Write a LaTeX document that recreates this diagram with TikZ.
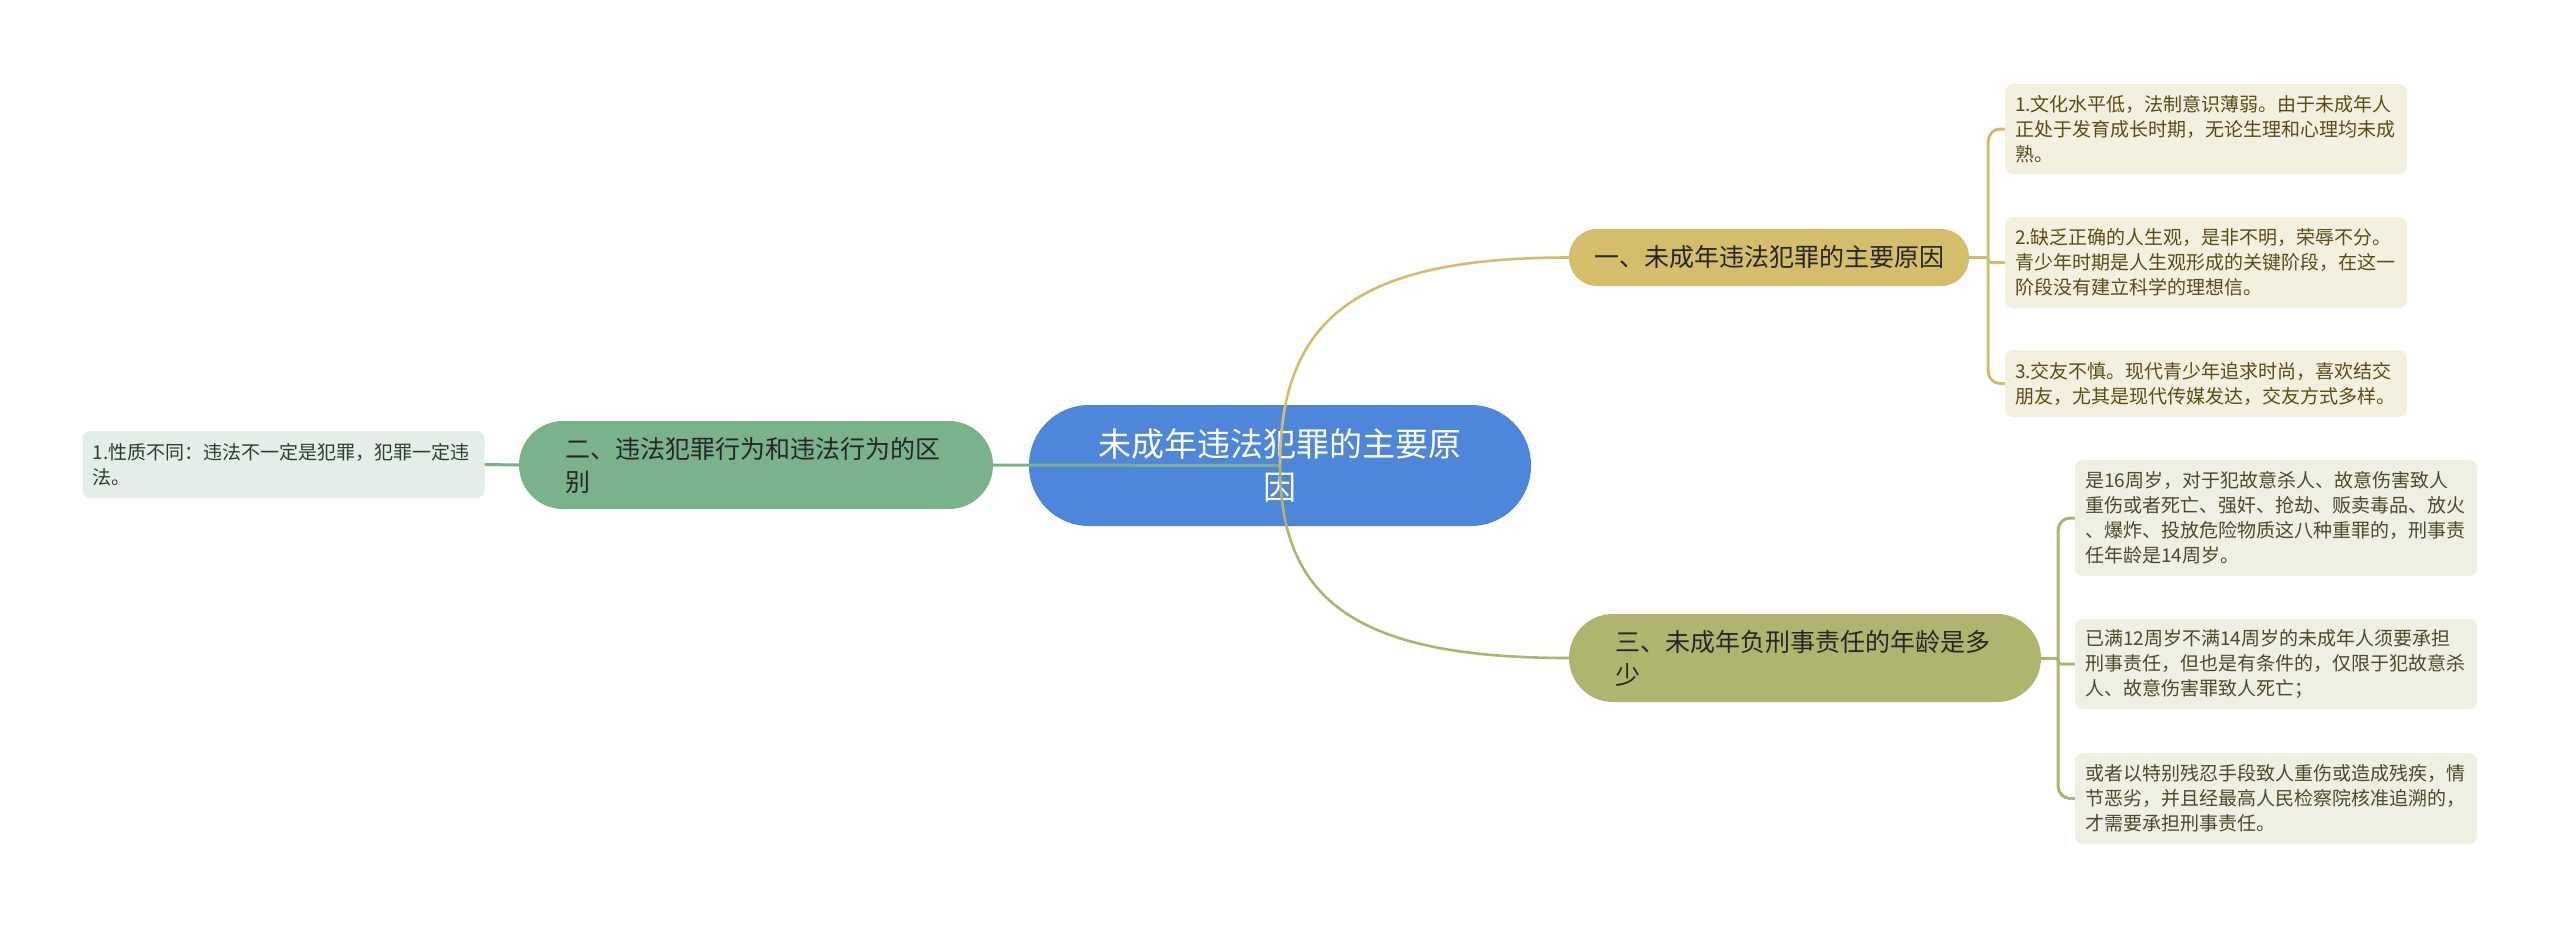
\documentclass[tikz,border=0pt]{standalone}
\usepackage{fontspec}
\newfontfamily\cjk{Noto Sans CJK SC}
\usetikzlibrary{calc}
\definecolor{rootblue}{HTML}{4E86DA}
\definecolor{goldfill}{HTML}{D5BD6B}
\definecolor{olivefill}{HTML}{AFB56E}
\definecolor{greenfill}{HTML}{7AB28C}
\definecolor{goldleaf}{HTML}{F4F0E0}
\definecolor{oliveleaf}{HTML}{EFF0E3}
\definecolor{greenleaf}{HTML}{E3EEE8}
\definecolor{goldtext}{HTML}{5B4B16}
\definecolor{olivetext}{HTML}{4A4A2C}
\definecolor{greentext}{HTML}{2C3E33}
\definecolor{branchtext}{HTML}{262626}
\begin{document}
\begin{tikzpicture}[x=1pt,y=-1pt,
  rootbox/.style={fill=rootblue, text=white, rounded corners=60pt, minimum width=502pt, minimum height=121pt, inner sep=0pt, text width=380pt, align=center, font=\cjk\fontsize{33}{43}\selectfont},
  branchbox/.style={text=branchtext, inner ysep=0pt, font=\cjk\fontsize{25}{33}\selectfont},
  leafbox/.style={rounded corners=8pt, inner xsep=10pt, inner ysep=0pt, text width=382pt, align=left, font=\cjk\fontsize{19}{25}\selectfont},
  goldline/.style={draw=goldfill, line width=2.6pt},
  oliveline/.style={draw=olivefill, line width=2.6pt},
  greenline/.style={draw=greenfill, line width=3pt}
]
\useasboundingbox[fill=white] (0,0) rectangle (2560,927);

% root
\node[rootbox] (root) at (1280,465.5) {未成年违法犯罪的主要原\\因};

% branches
\node[branchbox, fill=goldfill, rounded corners=28pt, minimum width=400pt, minimum height=57pt, inner xsep=0pt] (b1) at (1769,257.5) {一、未成年违法犯罪的主要原因};
\node[branchbox, fill=greenfill, rounded corners=44pt, minimum width=474pt, minimum height=88pt, inner xsep=46pt, text width=382pt, align=left] (b2) at (756,465) {二、违法犯罪行为和违法行为的区\\别};
\node[branchbox, fill=olivefill, rounded corners=44pt, minimum width=472pt, minimum height=88pt, inner xsep=46pt, text width=380pt, align=left] (b3) at (1805,658) {三、未成年负刑事责任的年龄是多\\少};

% leaves of branch 1
\node[leafbox, fill=goldleaf, text=goldtext, minimum height=90pt] (l11) at (2206,129) {1.文化水平低，法制意识薄弱。由于未成年人\\正处于发育成长时期，无论生理和心理均未成\\熟。};
\node[leafbox, fill=goldleaf, text=goldtext, minimum height=91pt] (l12) at (2206,262.5) {2.缺乏正确的人生观，是非不明，荣辱不分。\\青少年时期是人生观形成的关键阶段，在这一\\阶段没有建立科学的理想信。};
\node[leafbox, fill=goldleaf, text=goldtext, minimum height=67pt] (l13) at (2206,383.5) {3.交友不慎。现代青少年追求时尚，喜欢结交\\朋友，尤其是现代传媒发达，交友方式多样。};

% leaf of branch 2
\node[leafbox, fill=greenleaf, text=greentext, minimum height=67pt] (l21) at (283.5,464.5) {1.性质不同：违法不一定是犯罪，犯罪一定违\\法。};

% leaves of branch 3
\node[leafbox, fill=oliveleaf, text=olivetext, minimum height=116pt] (l31) at (2276,518) {是16周岁，对于犯故意杀人、故意伤害致人\\重伤或者死亡、强奸、抢劫、贩卖毒品、放火\\、爆炸、投放危险物质这八种重罪的，刑事责\\任年龄是14周岁。};
\node[leafbox, fill=oliveleaf, text=olivetext, minimum height=90pt] (l32) at (2276,664) {已满12周岁不满14周岁的未成年人须要承担\\刑事责任，但也是有条件的，仅限于犯故意杀\\人、故意伤害罪致人死亡；};
\node[leafbox, fill=oliveleaf, text=olivetext, minimum height=91pt] (l33) at (2276,798.5) {或者以特别残忍手段致人重伤或造成残疾，情\\节恶劣，并且经最高人民检察院核准追溯的，\\才需要承担刑事责任。};

% root connectors (drawn over the root)
\draw[greenline] (root.center) -- (b2.east);
\draw[goldline] (root.center) .. controls ($(root.center)+(0,-150)$) and ($(b1.west)+(-208,0)$) .. (b1.west);
\draw[oliveline] (root.center) .. controls ($(root.center)+(0,138)$) and ($(b3.west)+(-208,0)$) .. (b3.west);

% branch 2 -> leaf
\draw[greenline] (b2.west) -- (l21.east);

% branch 1 bracket
\coordinate (j1) at ($(b1.east)+(19,0)$);
\draw[goldline, line width=3pt] (b1.east) -- (j1);
\draw[goldline, line width=3pt, rounded corners=12pt] (j1) |- (l11.west);
\draw[goldline, line width=3pt, rounded corners=3pt] (j1) |- (l12.west);
\draw[goldline, line width=3pt, rounded corners=12pt] (j1) |- (l13.west);

% branch 3 bracket
\coordinate (j3) at ($(b3.east)+(17,0)$);
\draw[oliveline, line width=3pt] (b3.east) -- (j3);
\draw[oliveline, line width=3pt, rounded corners=12pt] (j3) |- (l31.west);
\draw[oliveline, line width=3pt, rounded corners=3pt] (j3) |- (l32.west);
\draw[oliveline, line width=3pt, rounded corners=12pt] (j3) |- (l33.west);
\end{tikzpicture}
\end{document}
